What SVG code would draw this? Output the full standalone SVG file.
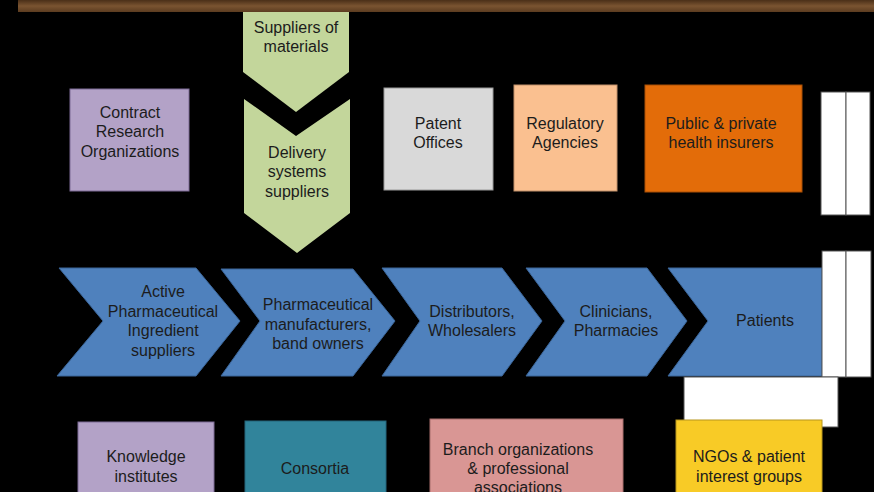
<svg xmlns="http://www.w3.org/2000/svg" width="874" height="492" viewBox="0 0 874 492">
<defs>
<linearGradient id="wood" x1="0" y1="0" x2="0" y2="1">
<stop offset="0" stop-color="#4a2f18"/>
<stop offset="0.5" stop-color="#7a5431"/>
<stop offset="1" stop-color="#5c3c20"/>
</linearGradient>
<style>
text{font-family:"Liberation Sans",Arial,sans-serif;font-size:16px;fill:#1c1c1c;text-anchor:middle}
.blue{fill:#4f81bd;stroke:#3b6598;stroke-width:1}
.green{fill:#c3d69b}
.wht{fill:#ffffff;stroke:#555555;stroke-width:1}
.box{stroke-width:1}
</style>
</defs>
<rect x="0" y="0" width="874" height="492" fill="#000000"/>
<rect x="18" y="0" width="856" height="12" fill="url(#wood)"/>

<g id="suppliers-materials">
<polygon class="green" points="243,12 349,12 349,72 296,112 243,72"/>
<text x="296" y="33">Suppliers of</text>
<text x="296" y="52">materials</text>
</g>
<g id="delivery-systems">
<polygon class="green" points="244,99 296,136 350,99 350,213 297,253 244,213"/>
<text x="297" y="158">Delivery</text>
<text x="297" y="177">systems</text>
<text x="297" y="197">suppliers</text>
</g>

<g id="cro">
<rect x="70" y="89" width="119" height="102" fill="#b3a2c7" stroke="#7d6b95"/>
<text x="130" y="118">Contract</text>
<text x="130" y="137">Research</text>
<text x="130" y="157">Organizations</text>
</g>
<g id="patent-offices">
<rect x="384" y="88" width="109" height="102" fill="#d9d9d9" stroke="#999999"/>
<text x="438" y="129">Patent</text>
<text x="438" y="148">Offices</text>
</g>
<g id="regulatory">
<rect x="514" y="85" width="103" height="106" fill="#fac090" stroke="#c0906a"/>
<text x="565" y="129">Regulatory</text>
<text x="565" y="148">Agencies</text>
</g>
<g id="insurers">
<rect x="645" y="85" width="157" height="107" fill="#e36c09" stroke="#a84f06"/>
<text x="721" y="129">Public &amp; private</text>
<text x="721" y="148">health insurers</text>
</g>
<g id="blank-top">
<rect class="wht" x="821" y="92" width="25" height="123"/>
<rect class="wht" x="846" y="92" width="24" height="123"/>
</g>

<g id="api-suppliers">
<polygon class="blue" points="59,268 196,268 240,321 196,376 57,376 103,321"/>
<text x="163" y="297">Active</text>
<text x="163" y="317">Pharmaceutical</text>
<text x="163" y="336">Ingredient</text>
<text x="163" y="356">suppliers</text>
</g>
<g id="manufacturers">
<polygon class="blue" points="221,269 353,269 395,321 353,376 221,376 260,321"/>
<text x="318" y="310">Pharmaceutical</text>
<text x="318" y="330">manufacturers,</text>
<text x="318" y="349">band owners</text>
</g>
<g id="distributors">
<polygon class="blue" points="382,268 502,268 542,321 502,376 382,376 420,321"/>
<text x="472" y="317">Distributors,</text>
<text x="472" y="336">Wholesalers</text>
</g>
<g id="clinicians">
<polygon class="blue" points="526,268 647,268 687,321 647,376 526,376 565,321"/>
<text x="616" y="317">Clinicians,</text>
<text x="616" y="336">Pharmacies</text>
</g>
<g id="patients">
<polygon class="blue" points="668,268 822,268 822,376 668,376 708,321"/>
<text x="765" y="326">Patients</text>
</g>
<g id="blank-mid">
<rect class="wht" x="822" y="251" width="24" height="126"/>
<rect class="wht" x="846" y="251" width="25" height="126"/>
</g>
<g id="blank-bottom">
<rect class="wht" x="684" y="377" width="154" height="50"/>
</g>

<g id="knowledge">
<rect x="78" y="422" width="136" height="75" fill="#b3a2c7" stroke="#7d6b95"/>
<text x="146" y="462">Knowledge</text>
<text x="146" y="482">institutes</text>
</g>
<g id="consortia">
<rect x="245" y="421" width="141" height="76" fill="#31849b" stroke="#24657a"/>
<text x="315" y="474">Consortia</text>
</g>
<g id="branch">
<rect x="430" y="419" width="193" height="78" fill="#d99694" stroke="#a86e6c"/>
<text x="518" y="455">Branch organizations</text>
<text x="518" y="474">&amp; professional</text>
<text x="518" y="493">associations</text>
</g>
<g id="ngos">
<rect x="676" y="420" width="146" height="77" fill="#f8cb26" stroke="#b8961c"/>
<text x="749" y="462">NGOs &amp; patient</text>
<text x="749" y="482">interest groups</text>
</g>
<g id="connectors"></g>
</svg>
